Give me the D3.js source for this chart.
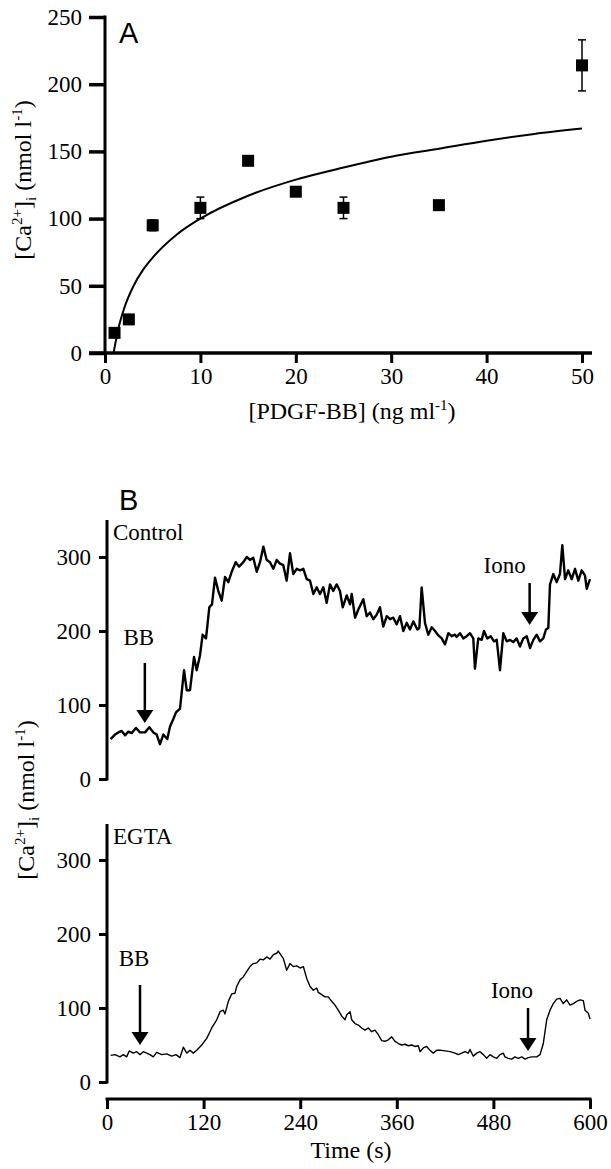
<!DOCTYPE html>
<html>
<head>
<meta charset="utf-8">
<script src="https://cdn.jsdelivr.net/npm/d3@7"></script>
<style>
  body { margin: 0; background: #fff; }
  svg { display: block; }
</style>
</head>
<body>
<div id="chart"></div>
<script>
// ---- Panel A: dose response ----
const doseX = [1, 2.5, 5, 10, 15, 20, 25, 35, 50];
const doseY = [15, 25, 95, 108, 143, 120, 108, 110, 214];
const doseErr = [0, 0, 4, 8, 0, 0, 8, 0, 19];
const fitX = [0.9, 1, 1.5, 2, 3, 4, 5, 7.5, 10, 15, 20, 25, 30, 35, 40, 45, 50];
const fitY = [0, 4, 21, 33, 50, 62, 71, 88, 100, 117, 129, 138, 146, 152, 158, 163, 167];
const doseTicksX = [0, 10, 20, 30, 40, 50];
const doseTicksY = [0, 50, 100, 150, 200, 250];

// ---- Panel B: time courses ----
const ctrlT = [4.5, 9.9, 14.1, 18.2, 22.4, 26.5, 30.6, 36, 41, 47.2, 52.6, 57.5, 61.7, 65.8, 70, 74.9, 78.3, 82.4, 85.7, 90.7,
  95.7, 99, 103.1, 108.1, 111.4, 115.5, 118.8, 123, 127.1, 130.4, 134.2, 138.3, 142.5, 146.6, 150.7, 154.9, 159.9, 164, 169.4, 173.6,
  177.6, 181.7, 186, 190.1, 194.2, 198.4, 202.5, 206.6, 210.8, 214.9, 219, 223.2, 227.3, 231.4, 235.7, 239.8, 243.9, 248.1, 252.2, 256.3,
  260.5, 264.6, 268.7, 272.9, 277, 281.1, 285.3, 289.4, 292.8, 297.8, 301.9, 304, 308.1, 312.2, 318.4, 322.6, 326.7, 330.8, 335, 339.1,
  343.2, 347.5, 351.6, 355.7, 359.9, 364, 368.1, 372.3, 376.4, 380.5, 385.5, 388, 390.9, 395, 399.1, 403.4, 407.5, 411.6, 415.8, 419.9,
  424, 428.2, 432.3, 434.4, 438.5, 442.6, 446.8, 450.9, 455, 457.1, 461.2, 465.5, 468.3, 472.4, 476.6, 480.7, 484.1, 488.2, 492.3, 496.5,
  500.6, 504.7, 508.9, 513, 517.1, 521.4, 525.5, 529.6, 533.8, 537.9, 542, 545.3, 548.2, 550.3, 554.4, 558.6, 562.7, 565.6, 569, 573,
  577.3, 581.4, 585.5, 589.7, 593.8, 595.9, 600];
const ctrlV = [54, 60, 63, 65, 59, 64, 62, 69, 63, 63, 70, 63, 60, 47, 60, 54, 71, 81, 90, 95,
  147, 120, 120, 165, 147, 167, 195, 190, 232, 236, 272, 254, 241, 273, 266, 280, 293, 287, 293, 300,
  296, 299, 280, 293, 314, 296, 293, 284, 296, 291, 289, 268, 305, 277, 284, 282, 284, 270, 268, 250,
  259, 250, 259, 238, 263, 254, 263, 254, 232, 248, 236, 250, 218, 229, 243, 220, 225, 216, 222, 232,
  206, 220, 216, 218, 209, 220, 200, 211, 202, 213, 202, 204, 259, 211, 195, 205, 200, 194, 190, 182,
  197, 193, 195, 192, 197, 190, 193, 197, 190, 149, 190, 188, 200, 190, 193, 186, 188, 147, 197, 186,
  188, 185, 190, 179, 190, 193, 177, 188, 195, 186, 190, 202, 204, 263, 277, 266, 277, 316, 270, 282,
  270, 284, 268, 282, 275, 257, 270];
const egtaT = [4.5, 9.9, 16.1, 20.3, 24.4, 27.7, 32.7, 36.8, 41, 45.1, 49.3, 53.4, 57.5, 61.7, 67.9, 74.1, 80.4, 85.7, 90.7, 94.8,
  99, 103.1, 107.2, 111.4, 117.6, 123.9, 130.1, 136.3, 140.4, 144.5, 146.6, 150.7, 154.9, 159, 161.1, 165.2, 169.3, 173.5, 177.6, 181.7,
  186, 190.1, 194.2, 198.4, 202.5, 206.6, 210.8, 212.8, 217, 219, 223.2, 227.3, 231.4, 235.7, 239.8, 243.9, 248.1, 252.2, 256.3, 260.5,
  262.5, 266.7, 270.8, 274.9, 279.1, 283.2, 287.3, 291.6, 295.7, 297.8, 301.9, 304, 308.1, 312.2, 316.4, 320.5, 324.6, 328.8, 332.9, 337,
  341.2, 345.3, 349.4, 353.7, 357.8, 361.9, 366.1, 370.2, 374.3, 378.5, 382.6, 386.7, 388.8, 392.9, 397.1, 401.2, 405.3, 409.6, 413.7, 419.9,
  426.1, 432.3, 436.4, 440.6, 444.7, 448.8, 450.9, 455, 459.3, 463.4, 467.5, 471.7, 475.8, 479.9, 484.1, 488.2, 492.3, 494.4, 498.5, 502.7,
  506.8, 510.9, 515.2, 519.3, 523.4, 527.6, 533.8, 537.9, 542, 546.2, 550.3, 554.4, 558.6, 562.7, 566.8, 571, 575.2, 579.3, 583.5, 587.6,
  591.7, 593.8, 597.9, 600];
const egtaV = [36, 37, 34, 37, 34, 42, 39, 41, 37, 41, 39, 37, 34, 40, 37, 38, 35, 37, 33, 47,
  39, 43, 39, 43, 50, 59, 73, 84, 95, 97, 92, 109, 119, 120, 129, 138, 142, 149, 156, 160,
  161, 166, 165, 169, 166, 172, 174, 177, 170, 167, 151, 160, 156, 157, 154, 156, 140, 129, 124, 127,
  121, 118, 115, 115, 109, 104, 97, 89, 84, 91, 95, 84, 79, 77, 73, 70, 73, 68, 70, 64,
  56, 55, 57, 61, 55, 52, 50, 51, 49, 50, 48, 49, 41, 46, 48, 43, 39, 43, 43, 42,
  41, 39, 37, 39, 41, 39, 44, 35, 39, 41, 37, 32, 37, 34, 32, 37, 39, 34, 32, 31,
  34, 32, 34, 31, 33, 34, 34, 37, 52, 84, 97, 106, 112, 113, 106, 111, 104, 106, 109, 111,
  110, 97, 93, 85];
const timeTicks = [0, 120, 240, 360, 480, 600];
const traceTicks = [0, 100, 200, 300];
const ctrlAdds = { BB: 47, Iono: 525 };
const egtaAdds = { BB: 41, Iono: 523 };

const SERIF = '"Liberation Serif", "Times New Roman", "DejaVu Serif", serif';
const SANS = '"Liberation Sans", Arial, sans-serif';

const svg = d3.select('#chart').append('svg')
  .attr('width', 611).attr('height', 1169)
  .attr('viewBox', '0 0 611 1169');

const serifText = (sel, size) => sel.style('font-family', SERIF).style('font-size', size + 'px').attr('fill', '#000');

const caLabel = (g) => {
  g.append('tspan').text('[Ca');
  g.append('tspan').attr('dy', -9).style('font-size', '15px').text('2+');
  g.append('tspan').attr('dy', 9).text(']');
  g.append('tspan').attr('dy', 5).style('font-size', '15px').text('i');
  g.append('tspan').attr('dy', -5).text(' (nmol l');
  g.append('tspan').attr('dy', -9).style('font-size', '15px').text('-1');
  g.append('tspan').attr('dy', 9).text(')');
};

const styleAxis = (g, w) => {
  g.select('.domain').remove();
  g.selectAll('.tick line').attr('stroke', '#000').attr('stroke-width', w);
  g.selectAll('.tick text').call(serifText, 23);
};

// ================= Panel A =================
const xA = d3.scaleLinear().domain([0, 50]).range([105, 582]);
const yA = d3.scaleLinear().domain([0, 250]).range([353, 17]);

const gA = svg.append('g');

gA.append('g').attr('transform', `translate(${xA(0)},0)`)
  .call(d3.axisLeft(yA).tickValues(doseTicksY).tickSize(16).tickSizeOuter(0).tickPadding(7))
  .call(styleAxis, 3.5);
gA.append('g').attr('transform', `translate(0,${yA(0)})`)
  .call(d3.axisBottom(xA).tickValues(doseTicksX).tickSize(10).tickSizeOuter(0).tickPadding(5))
  .call(styleAxis, 3);

gA.append('line').attr('x1', xA(0)).attr('x2', xA(0)).attr('y1', yA(0)).attr('y2', yA(250) - 1.5)
  .attr('stroke', '#000').attr('stroke-width', 3);
gA.append('line').attr('x1', xA(0) - 16).attr('x2', xA(50) + 10).attr('y1', yA(0)).attr('y2', yA(0))
  .attr('stroke', '#000').attr('stroke-width', 3.5);

const fitLine = d3.line().x((d, i) => xA(fitX[i])).y(d => yA(d)).curve(d3.curveMonotoneX);
gA.append('path').datum(fitY).attr('d', fitLine)
  .attr('fill', 'none').attr('stroke', '#000').attr('stroke-width', 2);

const pts = doseX.map((x, i) => ({ x, y: doseY[i], e: doseErr[i] }));
const eb = gA.selectAll('g.eb').data(pts.filter(d => d.e > 0)).enter().append('g');
eb.append('line').attr('x1', d => xA(d.x)).attr('x2', d => xA(d.x))
  .attr('y1', d => yA(d.y + d.e)).attr('y2', d => yA(d.y - d.e))
  .attr('stroke', '#000').attr('stroke-width', 1.5);
[1, -1].forEach(s => {
  eb.append('line').attr('x1', d => xA(d.x) - 4).attr('x2', d => xA(d.x) + 4)
    .attr('y1', d => yA(d.y + s * d.e)).attr('y2', d => yA(d.y + s * d.e))
    .attr('stroke', '#000').attr('stroke-width', 1.5);
});
gA.selectAll('rect.pt').data(pts).enter().append('rect')
  .attr('x', d => xA(d.x) - 6).attr('y', d => yA(d.y) - 6)
  .attr('width', 12).attr('height', 12).attr('fill', '#000');

gA.append('text').attr('x', 119).attr('y', 43).text('A')
  .style('font-family', SANS).style('font-size', '29px');
gA.append('text').attr('text-anchor', 'middle').call(serifText, 24)
  .attr('transform', 'translate(31,180) rotate(-90)').call(caLabel);
gA.append('text').attr('text-anchor', 'middle').attr('x', 352).attr('y', 419).call(serifText, 24)
  .call(t => {
    t.append('tspan').text('[PDGF-BB] (ng ml');
    t.append('tspan').attr('dy', -9).style('font-size', '15px').text('-1');
    t.append('tspan').attr('dy', 9).text(')');
  });

// ================= Panel B =================
const xB = d3.scaleLinear().domain([0, 600]).range([107, 590]);
const yCtrl = d3.scaleLinear().domain([0, 300]).range([779, 557]);
const yEgta = d3.scaleLinear().domain([0, 300]).range([1082, 860]);

const gB = svg.append('g');
gB.append('text').attr('x', 119).attr('y', 510).text('B')
  .style('font-family', SANS).style('font-size', '29px');

const drawTrace = (y, tArr, vArr, topY, name, width, adds, labelPos) => {
  gB.append('g').attr('transform', `translate(${xB(0)},0)`)
    .call(d3.axisLeft(y).tickValues(traceTicks).tickSize(8).tickSizeOuter(0).tickPadding(8))
    .call(styleAxis, 3);
  gB.append('line').attr('x1', xB(0)).attr('x2', xB(0)).attr('y1', y(0) + 1.5).attr('y2', topY)
    .attr('stroke', '#000').attr('stroke-width', 3);
  gB.append('text').attr('x', xB(0) + 6).attr('y', topY + 20).call(serifText, 23).text(name);

  const line = d3.line().x((d, i) => xB(tArr[i])).y(d => y(d));
  gB.append('path').datum(vArr).attr('d', line)
    .attr('fill', 'none').attr('stroke', '#000').attr('stroke-width', width)
    .attr('stroke-linejoin', 'round');

  Object.keys(adds).forEach(k => {
    const ax = xB(adds[k]);
    const p = labelPos[k];
    gB.append('text').attr('text-anchor', 'middle').call(serifText, 23)
      .attr('x', ax + p.dx).attr('y', p.ty).text(k);
    gB.append('line').attr('x1', ax).attr('x2', ax).attr('y1', p.top).attr('y2', p.tip - 10)
      .attr('stroke', '#000').attr('stroke-width', 2.5);
    gB.append('path').attr('d', `M${ax - 8.5},${p.tip - 13}L${ax + 8.5},${p.tip - 13}L${ax},${p.tip}Z`)
      .attr('fill', '#000');
  });
};

drawTrace(yCtrl, ctrlT, ctrlV, 520, 'Control', 2.4, ctrlAdds, {
  BB: { dx: -6, ty: 645, top: 663, tip: 723 },
  Iono: { dx: -25, ty: 573, top: 583, tip: 625 }
});
drawTrace(yEgta, egtaT, egtaV, 824, 'EGTA', 1.4, egtaAdds, {
  BB: { dx: -6, ty: 966, top: 985, tip: 1045 },
  Iono: { dx: -16, ty: 998, top: 1008, tip: 1051 }
});

gB.append('g').attr('transform', `translate(0,1099)`)
  .call(d3.axisBottom(xB).tickValues(timeTicks).tickSize(10).tickSizeOuter(0).tickPadding(5))
  .call(styleAxis, 3);
gB.append('line').attr('x1', xB(0) - 1.5).attr('x2', xB(600) + 1.5).attr('y1', 1099).attr('y2', 1099)
  .attr('stroke', '#000').attr('stroke-width', 3);

gB.append('text').attr('text-anchor', 'middle').call(serifText, 24)
  .attr('transform', 'translate(34,800) rotate(-90)').call(caLabel);
gB.append('text').attr('text-anchor', 'middle').call(serifText, 24)
  .attr('x', 351).attr('y', 1158).text('Time (s)');
</script>
</body>
</html>
